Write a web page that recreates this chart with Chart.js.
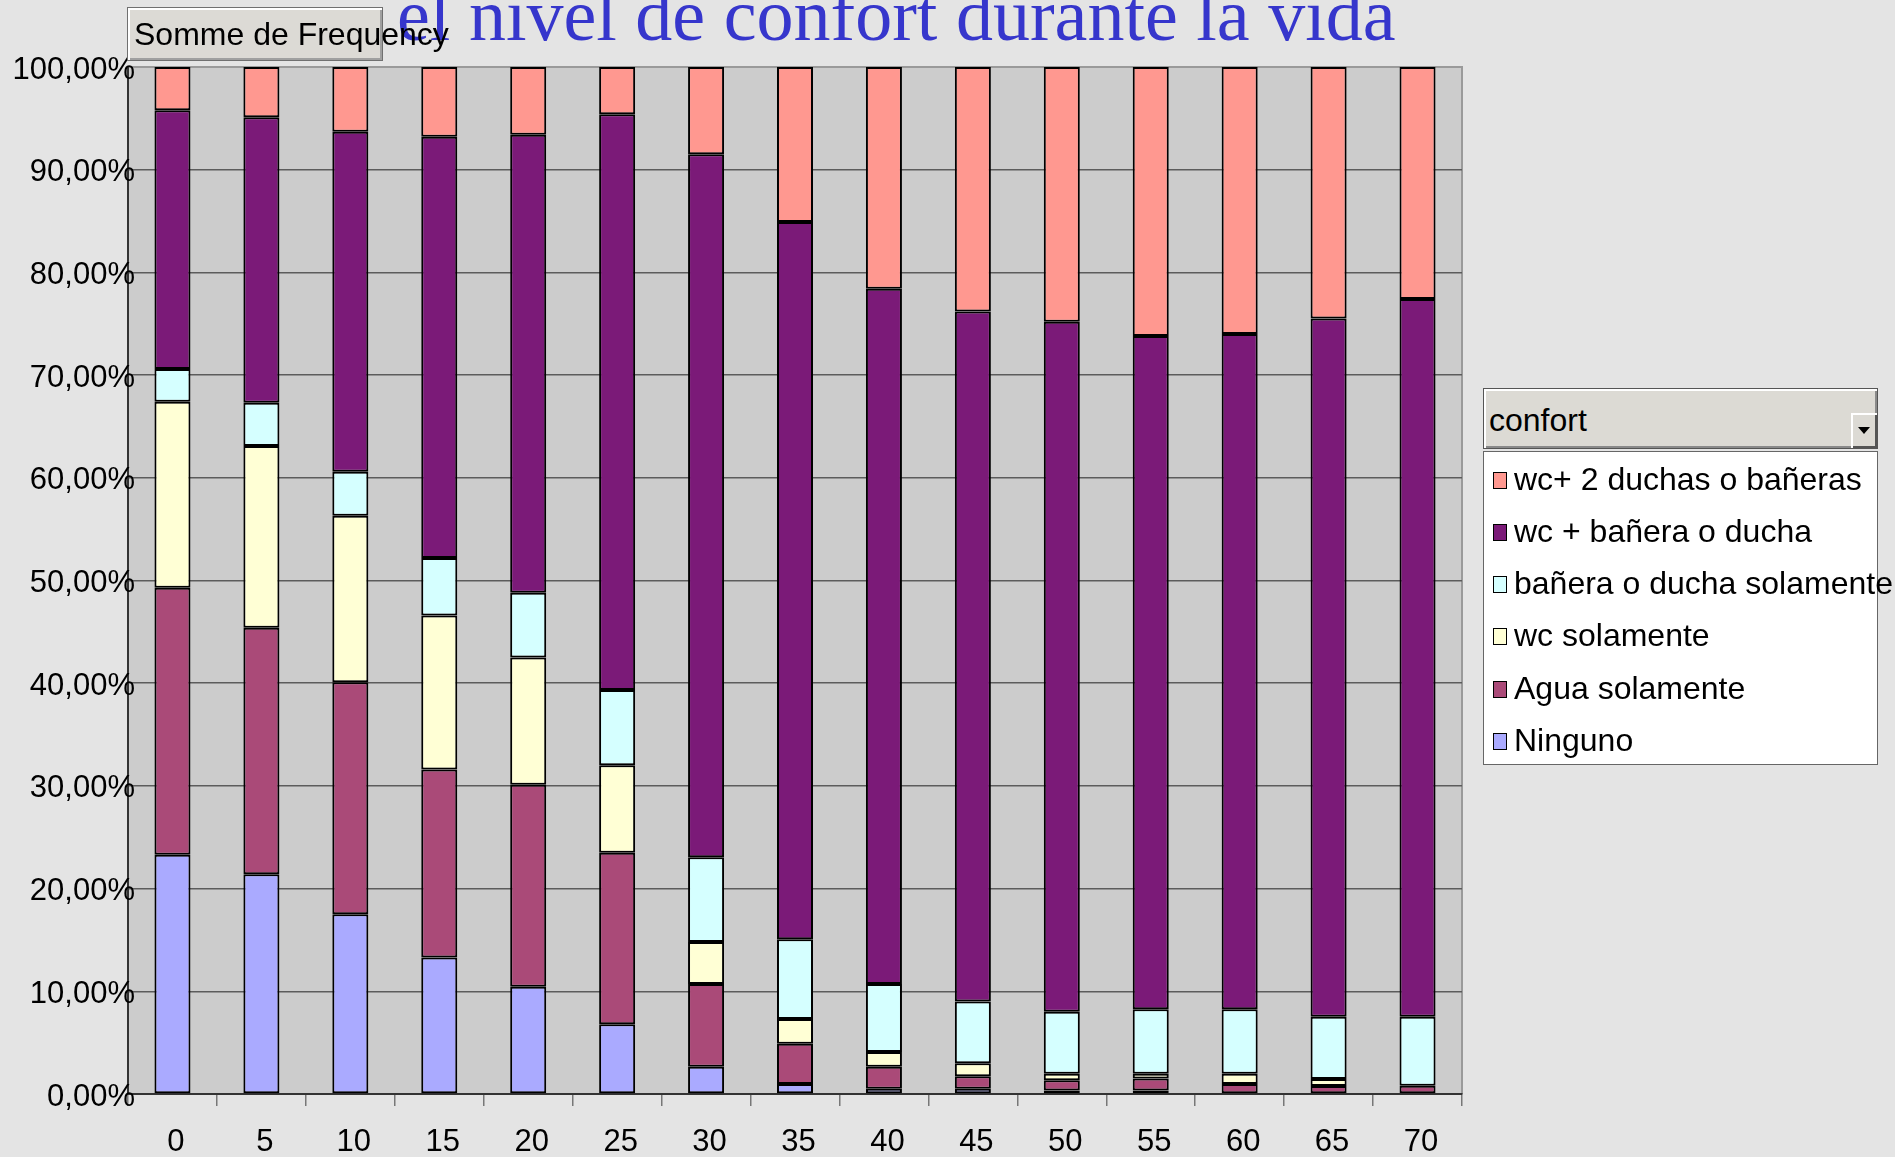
<!DOCTYPE html>
<html><head><meta charset="utf-8">
<script src="https://cdn.jsdelivr.net/npm/chart.js@4/dist/chart.umd.min.js"></script>
<style>
html,body{margin:0;padding:0;background:#e4e4e4;overflow:hidden;}
#wrap{position:relative;width:1895px;height:1157px;overflow:hidden;}
#c{position:absolute;left:0;top:0;}
.t{position:absolute;white-space:nowrap;line-height:1;font-family:"Liberation Sans",Arial,sans-serif;font-size:32px;color:#000;}
#title{position:absolute;left:397px;top:-22px;white-space:nowrap;line-height:1;font-family:"Liberation Serif","Times New Roman",serif;font-size:74px;color:#3636cc;}
#btn{position:absolute;left:127px;top:7px;width:256px;height:54px;box-sizing:border-box;border:1px solid #707070;background:#dcdad5;box-shadow:inset 2px 2px 0 #fff,inset -2px -2px 0 #a0a0a0;}
#legHead{position:absolute;left:1483px;top:388px;width:395px;height:61px;box-sizing:border-box;border:1px solid #555;background:#dcdad4;box-shadow:inset 2px 2px 0 #fff,inset -2px -2px 0 #8a8a8a;}
#dd{position:absolute;left:367px;top:24px;width:26px;height:35px;box-sizing:border-box;background:#dcdad4;box-shadow:inset 2px 2px 0 #fff,inset -2px -2px 0 #555;}
#tri{position:absolute;left:7px;top:14px;width:0;height:0;border-left:6px solid transparent;border-right:6px solid transparent;border-top:7px solid #000;}
#legBox{position:absolute;left:1483px;top:451px;width:395px;height:314px;box-sizing:border-box;border:1px solid #666;background:#fff;}
.sw{position:absolute;width:14px;height:17px;box-sizing:border-box;border:1px solid #000;}
</style></head><body>
<div id="wrap">
<canvas id="c" width="1895" height="1157"></canvas>
<div id="title">el nivel de confort durante la vida</div>
<div id="btn"><span class="t" style="left:6px;top:10px;">Somme de Frequency</span></div>
<div id="legHead"><span class="t" style="left:5px;top:15px;">confort</span><div id="dd"><div id="tri"></div></div></div>
<div id="legBox"></div>
</div>
<script>
const categories = ['0','5','10','15','20','25','30','35','40','45','50','55','60','65','70'];
const ninguno   = [23.3, 21.4, 17.5, 13.3, 10.45, 6.8, 2.66, 0.97, 0.5, 0.52, 0.33, 0.33, 0, 0, 0];
const agua      = [26.0, 24.0, 22.6, 18.3, 19.65, 16.7, 8.04, 3.93, 2.16, 1.2, 1.0, 1.17, 0.97, 0.78, 0.81];
const wcSolo    = [18.1, 17.7, 16.2, 15.0, 12.4, 8.5, 4.1, 2.4, 1.44, 1.28, 0.65, 0.48, 1.01, 0.68, 0];
const banera    = [3.2, 4.2, 4.3, 5.6, 6.3, 7.35, 8.25, 7.77, 6.6, 6.0, 6.02, 6.27, 6.27, 6.07, 6.72];
const wcBanera  = [25.2, 27.8, 33.1, 41.0, 44.6, 56.05, 68.45, 69.83, 67.7, 67.2, 67.2, 65.55, 65.75, 67.97, 69.87];
const wc2Duchas = [4.2, 4.9, 6.3, 6.8, 6.6, 4.6, 8.5, 15.1, 21.6, 23.8, 24.8, 26.2, 26.0, 24.5, 22.6];
const seriesNames = ['Ninguno','Agua solamente','wc solamente','bañera o ducha solamente','wc + bañera o ducha','wc+ 2 duchas o bañeras'];
const seriesColors = ['#aaaaff','#aa4a78','#ffffd5','#d5ffff','#7b1a78','#ff9890'];
const yTickLabels = ['0,00%','10,00%','20,00%','30,00%','40,00%','50,00%','60,00%','70,00%','80,00%','90,00%','100,00%'];

const seriesData = [ninguno, agua, wcSolo, banera, wcBanera, wc2Duchas];
const datasets = seriesData.map((d,i)=>({
  label: seriesNames[i], data: d, backgroundColor: seriesColors[i],
  borderColor:'#000', borderWidth:2, borderSkipped:false,
  barPercentage:0.405, categoryPercentage:1
}));

const plotBg = {
  id:'plotBg',
  beforeDraw(chart){
    const {ctx, chartArea:a} = chart;
    ctx.save();
    ctx.fillStyle='#cccccc';
    ctx.fillRect(a.left,a.top,a.right-a.left,a.bottom-a.top);
    ctx.strokeStyle='#9a9a9a'; ctx.lineWidth=2;
    ctx.beginPath(); ctx.moveTo(a.left,a.top); ctx.lineTo(a.right,a.top); ctx.lineTo(a.right,a.bottom); ctx.stroke();
    ctx.restore();
  }
};

const fontFamily = '"Liberation Sans", Arial, sans-serif';
const axisFont = {family:fontFamily, size:31};
// measure widest y label so mirrored (unclipped) labels end slightly right of the axis line
const mctx = document.createElement('canvas').getContext('2d');
mctx.font = '31px ' + fontFamily;
const widestY = Math.max(...yTickLabels.map(s=>mctx.measureText(s).width));
const Y_AXIS_W = 128, LABEL_RIGHT = 135;

new Chart(document.getElementById('c'), {
  type:'bar',
  data:{labels:categories, datasets},
  plugins:[plotBg],
  options:{
    responsive:false, animation:false, devicePixelRatio:1,
    layout:{padding:{top:67,right:433,left:0,bottom:0}},
    plugins:{legend:{display:false}, title:{display:false}, tooltip:{enabled:false}},
    scales:{
      x:{stacked:true, offset:true,
        grid:{display:true, offset:true, drawOnChartArea:false, drawTicks:true, tickLength:12, color:'#777', lineWidth:1.5},
        border:{display:true, color:'#333', width:2},
        ticks:{font:axisFont, color:'#000', padding:18, labelOffset:3.5, maxRotation:0, autoSkip:false},
        afterFit(s){ s.height = 63; }
      },
      y:{stacked:true, min:0, max:100,
        ticks:{stepSize:10, callback:(v,i)=>yTickLabels[i], font:axisFont, color:'#000',
               mirror:true, crossAlign:'far', padding:(LABEL_RIGHT - Y_AXIS_W) - widestY, labelOffset:3},
        grid:{color:(c)=> (c.tick && c.tick.value===100) ? '#9a9a9a' : '#5c5c5c', lineWidth:1.5, drawTicks:false},
        border:{display:true, color:'#333', width:2},
        afterFit(s){ s.width = Y_AXIS_W; }
      }
    }
  }
});

// legend (top to bottom: reverse of stacking order)
const wrap = document.getElementById('wrap');
for (let k=0;k<seriesNames.length;k++){
  const i = seriesNames.length-1-k;
  const c = 480.5 + k*52.15;
  const sw = document.createElement('div');
  sw.className='sw'; sw.style.left='1493px'; sw.style.top=(c-8.5)+'px'; sw.style.background=seriesColors[i];
  wrap.appendChild(sw);
  const tx = document.createElement('span');
  tx.className='t'; tx.style.left='1514px'; tx.style.top=(c-17.6)+'px'; tx.textContent=seriesNames[i];
  wrap.appendChild(tx);
}
</script>
</body></html>
